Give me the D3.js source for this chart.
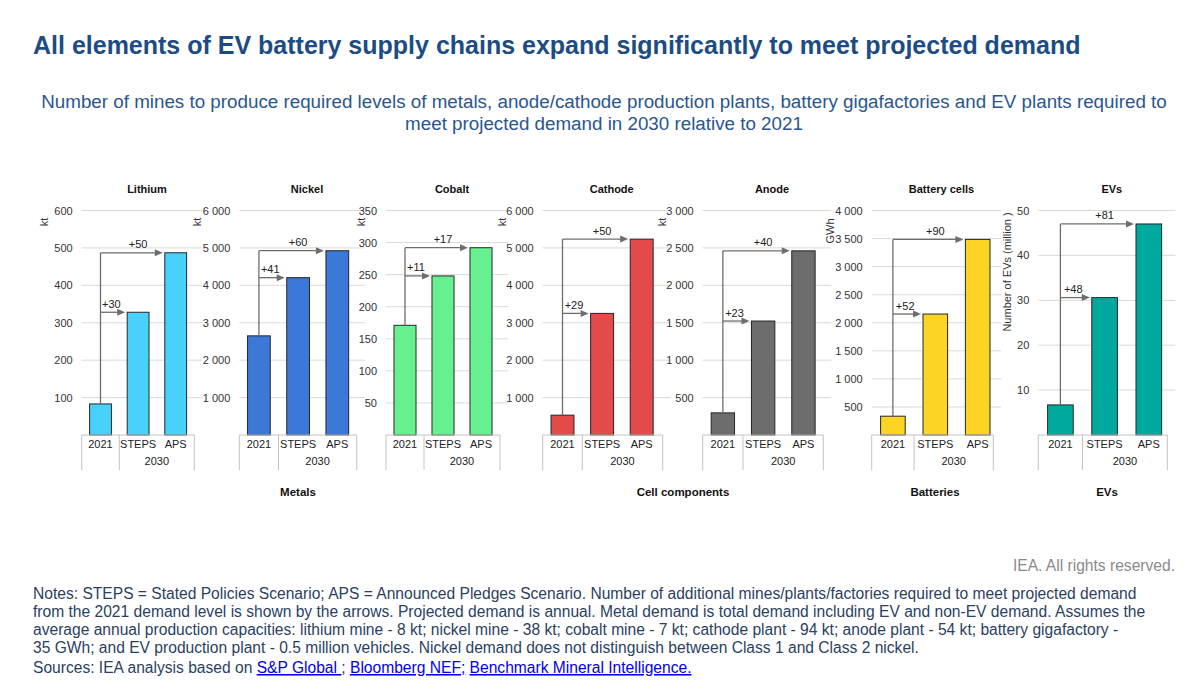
<!DOCTYPE html>
<html>
<head>
<meta charset="utf-8">
<script src="https://cdn.jsdelivr.net/npm/d3@7"></script>
<style>
  html, body { margin: 0; padding: 0; background: #fff; }
  svg { display: block; font-family: "Liberation Sans", Arial, sans-serif; }
</style>
</head>
<body>
<svg id="chart" width="1200" height="689"></svg>
<script>
// ---------------- DATA ----------------
const panelTitles = ["Lithium", "Nickel", "Cobalt", "Cathode", "Anode", "Battery cells", "EVs"];
const unitLabels = ["kt", "kt", "kt", "kt", "kt", "GWh", "Number of EVs (million )"];
const categories = ["2021", "STEPS", "APS"];
const yearGroupLabel = "2030";
const values2021 = [83, 2650, 171, 530, 296, 335, 6.7];
const valuesSTEPS = [328, 4205, 248, 3250, 1523, 2155, 30.6];
const valuesAPS = [487, 4925, 292, 5235, 2461, 3485, 47.0];
const additionalSTEPS = ["+30", "+41", "+11", "+29", "+23", "+52", "+48"];
const additionalAPS = ["+50", "+60", "+17", "+50", "+40", "+90", "+81"];
const axisMax = [600, 6000, 350, 6000, 3000, 4000, 50];
const tickValues = [
  [100, 200, 300, 400, 500, 600],
  [1000, 2000, 3000, 4000, 5000, 6000],
  [50, 100, 150, 200, 250, 300, 350],
  [1000, 2000, 3000, 4000, 5000, 6000],
  [500, 1000, 1500, 2000, 2500, 3000],
  [500, 1000, 1500, 2000, 2500, 3000, 3500, 4000],
  [10, 20, 30, 40, 50]
];
const groupLabels = ["Metals", "Cell components", "Batteries", "EVs"];
const titleText = "All elements of EV battery supply chains expand significantly to meet projected demand";
const subtitleLines = [
  "Number of mines to produce required levels of metals, anode/cathode production plants, battery gigafactories and EV plants required to",
  "meet projected demand in 2030 relative to 2021"
];
const rightsText = "IEA. All rights reserved.";
const noteLines = [
  "Notes: STEPS = Stated Policies Scenario; APS = Announced Pledges Scenario. Number of additional mines/plants/factories required to meet projected demand",
  "from the 2021 demand level is shown by the arrows. Projected demand is annual. Metal demand is total demand including EV and non-EV demand. Assumes the",
  "average annual production capacities: lithium mine - 8 kt; nickel mine - 38 kt; cobalt mine - 7 kt; cathode plant - 94 kt; anode plant - 54 kt; battery gigafactory -",
  "35 GWh; and EV production plant - 0.5 million vehicles. Nickel demand does not distinguish between Class 1 and Class 2 nickel."
];
const sourcesPrefix = "Sources: IEA analysis based on ";
const sourceLinks = ["S&P Global ", "Bloomberg NEF;", "Benchmark Mineral Intelligence."];

// ---------------- LAYOUT / STYLE ----------------
const colors = ["#48D2FB", "#3C78D8", "#66F08F", "#E34B4B", "#6D6D6D", "#FDD423", "#00A99D"];
const boxLeft = [81.7, 239.3, 386, 542.7, 702.7, 871.7, 1038.3];
const boxRight = [194.3, 356.7, 500, 662.7, 823.3, 993.3, 1167.3];
const bandStep = [37.6, 39.2, 38, 39.6, 40.3, 42.4, 44.2];
const unitPos = [[44, 222], [197, 222], [361, 222], [502, 222], [662, 222], [830, 231], [1007, 272]];
const groupX = [298, 683, 935, 1107];
const yZero = 435, yTop = 210.5;

const svg = d3.select("#chart");

// Title & subtitle
svg.append("text").attr("x", 33).attr("y", 54)
  .attr("font-size", 25).attr("font-weight", "bold").attr("fill", "#1D4C84")
  .text(titleText);
subtitleLines.forEach((t, i) => {
  svg.append("text").attr("x", 604).attr("y", 107.5 + i * 22)
    .attr("text-anchor", "middle").attr("font-size", 18.8).attr("fill", "#2A5691")
    .text(t);
});

// Panels
panelTitles.forEach((title, i) => {
  const g = svg.append("g");
  const left = boxLeft[i];
  const right = boxRight[i];
  const step = bandStep[i];
  const x = d3.scaleBand().domain(categories).range([left, left + 3 * step]).paddingInner(0.42).paddingOuter(0.21);
  const y = d3.scaleLinear().domain([0, axisMax[i]]).range([yZero, yTop]);
  const vals = [values2021[i], valuesSTEPS[i], valuesAPS[i]];

  // gridlines
  g.selectAll(".grid").data(tickValues[i]).enter().append("line")
    .attr("x1", left).attr("x2", right + 8)
    .attr("y1", d => y(d)).attr("y2", d => y(d))
    .attr("stroke", "#D9D9D9").attr("stroke-width", 1);

  // y axis labels via d3 axis
  const fmt = v => d3.format(",")(v).replace(/,/g, " ");
  const axis = d3.axisLeft(y).tickValues(tickValues[i]).tickFormat(fmt).tickSize(0).tickPadding(0);
  const ag = g.append("g").attr("transform", `translate(${left - 9},0)`).call(axis);
  ag.select(".domain").remove();
  ag.selectAll("text").attr("font-size", 11).attr("fill", "#333")
    .attr("font-family", "'Liberation Sans', Arial, sans-serif");

  // unit label
  g.append("text")
    .attr("transform", `translate(${unitPos[i][0]},${unitPos[i][1]}) rotate(-90)`)
    .attr("text-anchor", "middle").attr("dominant-baseline", "central")
    .attr("font-size", 11).attr("fill", "#333").text(unitLabels[i]);

  // panel title
  g.append("text").attr("x", (left + right) / 2 + 9).attr("y", 193)
    .attr("text-anchor", "middle").attr("font-size", 11).attr("font-weight", "bold")
    .attr("fill", "#111").text(title);

  // bars
  g.selectAll(".bar").data(categories).enter().append("rect")
    .attr("x", d => x(d)).attr("width", x.bandwidth())
    .attr("y", (d, k) => y(vals[k])).attr("height", (d, k) => yZero - y(vals[k]))
    .attr("fill", colors[i]).attr("stroke", "#262626").attr("stroke-width", 1);

  // category box
  const boxColor = "#C4C4C4";
  g.append("line").attr("x1", left).attr("x2", right).attr("y1", yZero).attr("y2", yZero)
    .attr("stroke", boxColor);
  [left, left + step, right].forEach(xx => {
    g.append("line").attr("x1", xx).attr("x2", xx).attr("y1", yZero).attr("y2", 470)
      .attr("stroke", boxColor);
  });
  g.selectAll(".cat").data(categories).enter().append("text")
    .attr("x", d => x(d) + x.bandwidth() / 2).attr("y", 448)
    .attr("text-anchor", "middle").attr("font-size", 11).attr("fill", "#222").text(d => d);
  g.append("text").attr("x", (left + step + right) / 2).attr("y", 465)
    .attr("text-anchor", "middle").attr("font-size", 11).attr("fill", "#222").text(yearGroupLabel);

  // arrows
  const arrowColor = "#6E6E6E";
  const x0 = x(categories[0]) + x.bandwidth() / 2;
  const ySteps = y(valuesSTEPS[i]), yAps = y(valuesAPS[i]);
  g.append("line").attr("x1", x0).attr("x2", x0).attr("y1", y(values2021[i])).attr("y2", yAps)
    .attr("stroke", arrowColor).attr("stroke-width", 1.3);
  [[ySteps, x(categories[1]) - 2], [yAps, x(categories[2]) - 2]].forEach(([yy, tip]) => {
    g.append("line").attr("x1", x0).attr("x2", tip - 6).attr("y1", yy).attr("y2", yy)
      .attr("stroke", arrowColor).attr("stroke-width", 1.3);
    g.append("path").attr("d", `M${tip},${yy} L${tip - 8},${yy - 3.5} L${tip - 8},${yy + 3.5} Z`)
      .attr("fill", arrowColor);
  });
  g.append("text").attr("x", x(categories[0]) + x.bandwidth()).attr("y", ySteps - 4.5)
    .attr("text-anchor", "middle").attr("font-size", 11).attr("fill", "#222").text(additionalSTEPS[i]);
  g.append("text").attr("x", x(categories[1]) + x.bandwidth() / 2).attr("y", yAps - 4.5)
    .attr("text-anchor", "middle").attr("font-size", 11).attr("fill", "#222").text(additionalAPS[i]);
});

// group labels
groupLabels.forEach((t, i) => {
  svg.append("text").attr("x", groupX[i]).attr("y", 496)
    .attr("text-anchor", "middle").attr("font-size", 11.5).attr("font-weight", "bold")
    .attr("fill", "#111").text(t);
});

// rights
svg.append("text").attr("x", 1175).attr("y", 571).attr("text-anchor", "end")
  .attr("font-size", 15.6).attr("fill", "#8A8A8A").text(rightsText);

// notes
noteLines.forEach((t, i) => {
  svg.append("text").attr("x", 33).attr("y", 598.5 + i * 18.2)
    .attr("font-size", 15.6).attr("fill", "#2B3F62").text(t);
});
const src = svg.append("text").attr("x", 33).attr("y", 673).attr("font-size", 15.6).attr("fill", "#2B3F62");
src.append("tspan").text(sourcesPrefix);
sourceLinks.forEach((t, i) => {
  src.append("tspan").attr("fill", "#0000EE").attr("text-decoration", "underline").text(t);
  if (i === 0) src.append("tspan").text("; ");
  else if (i === 1) src.append("tspan").text(" ");
});
</script>
</body>
</html>
